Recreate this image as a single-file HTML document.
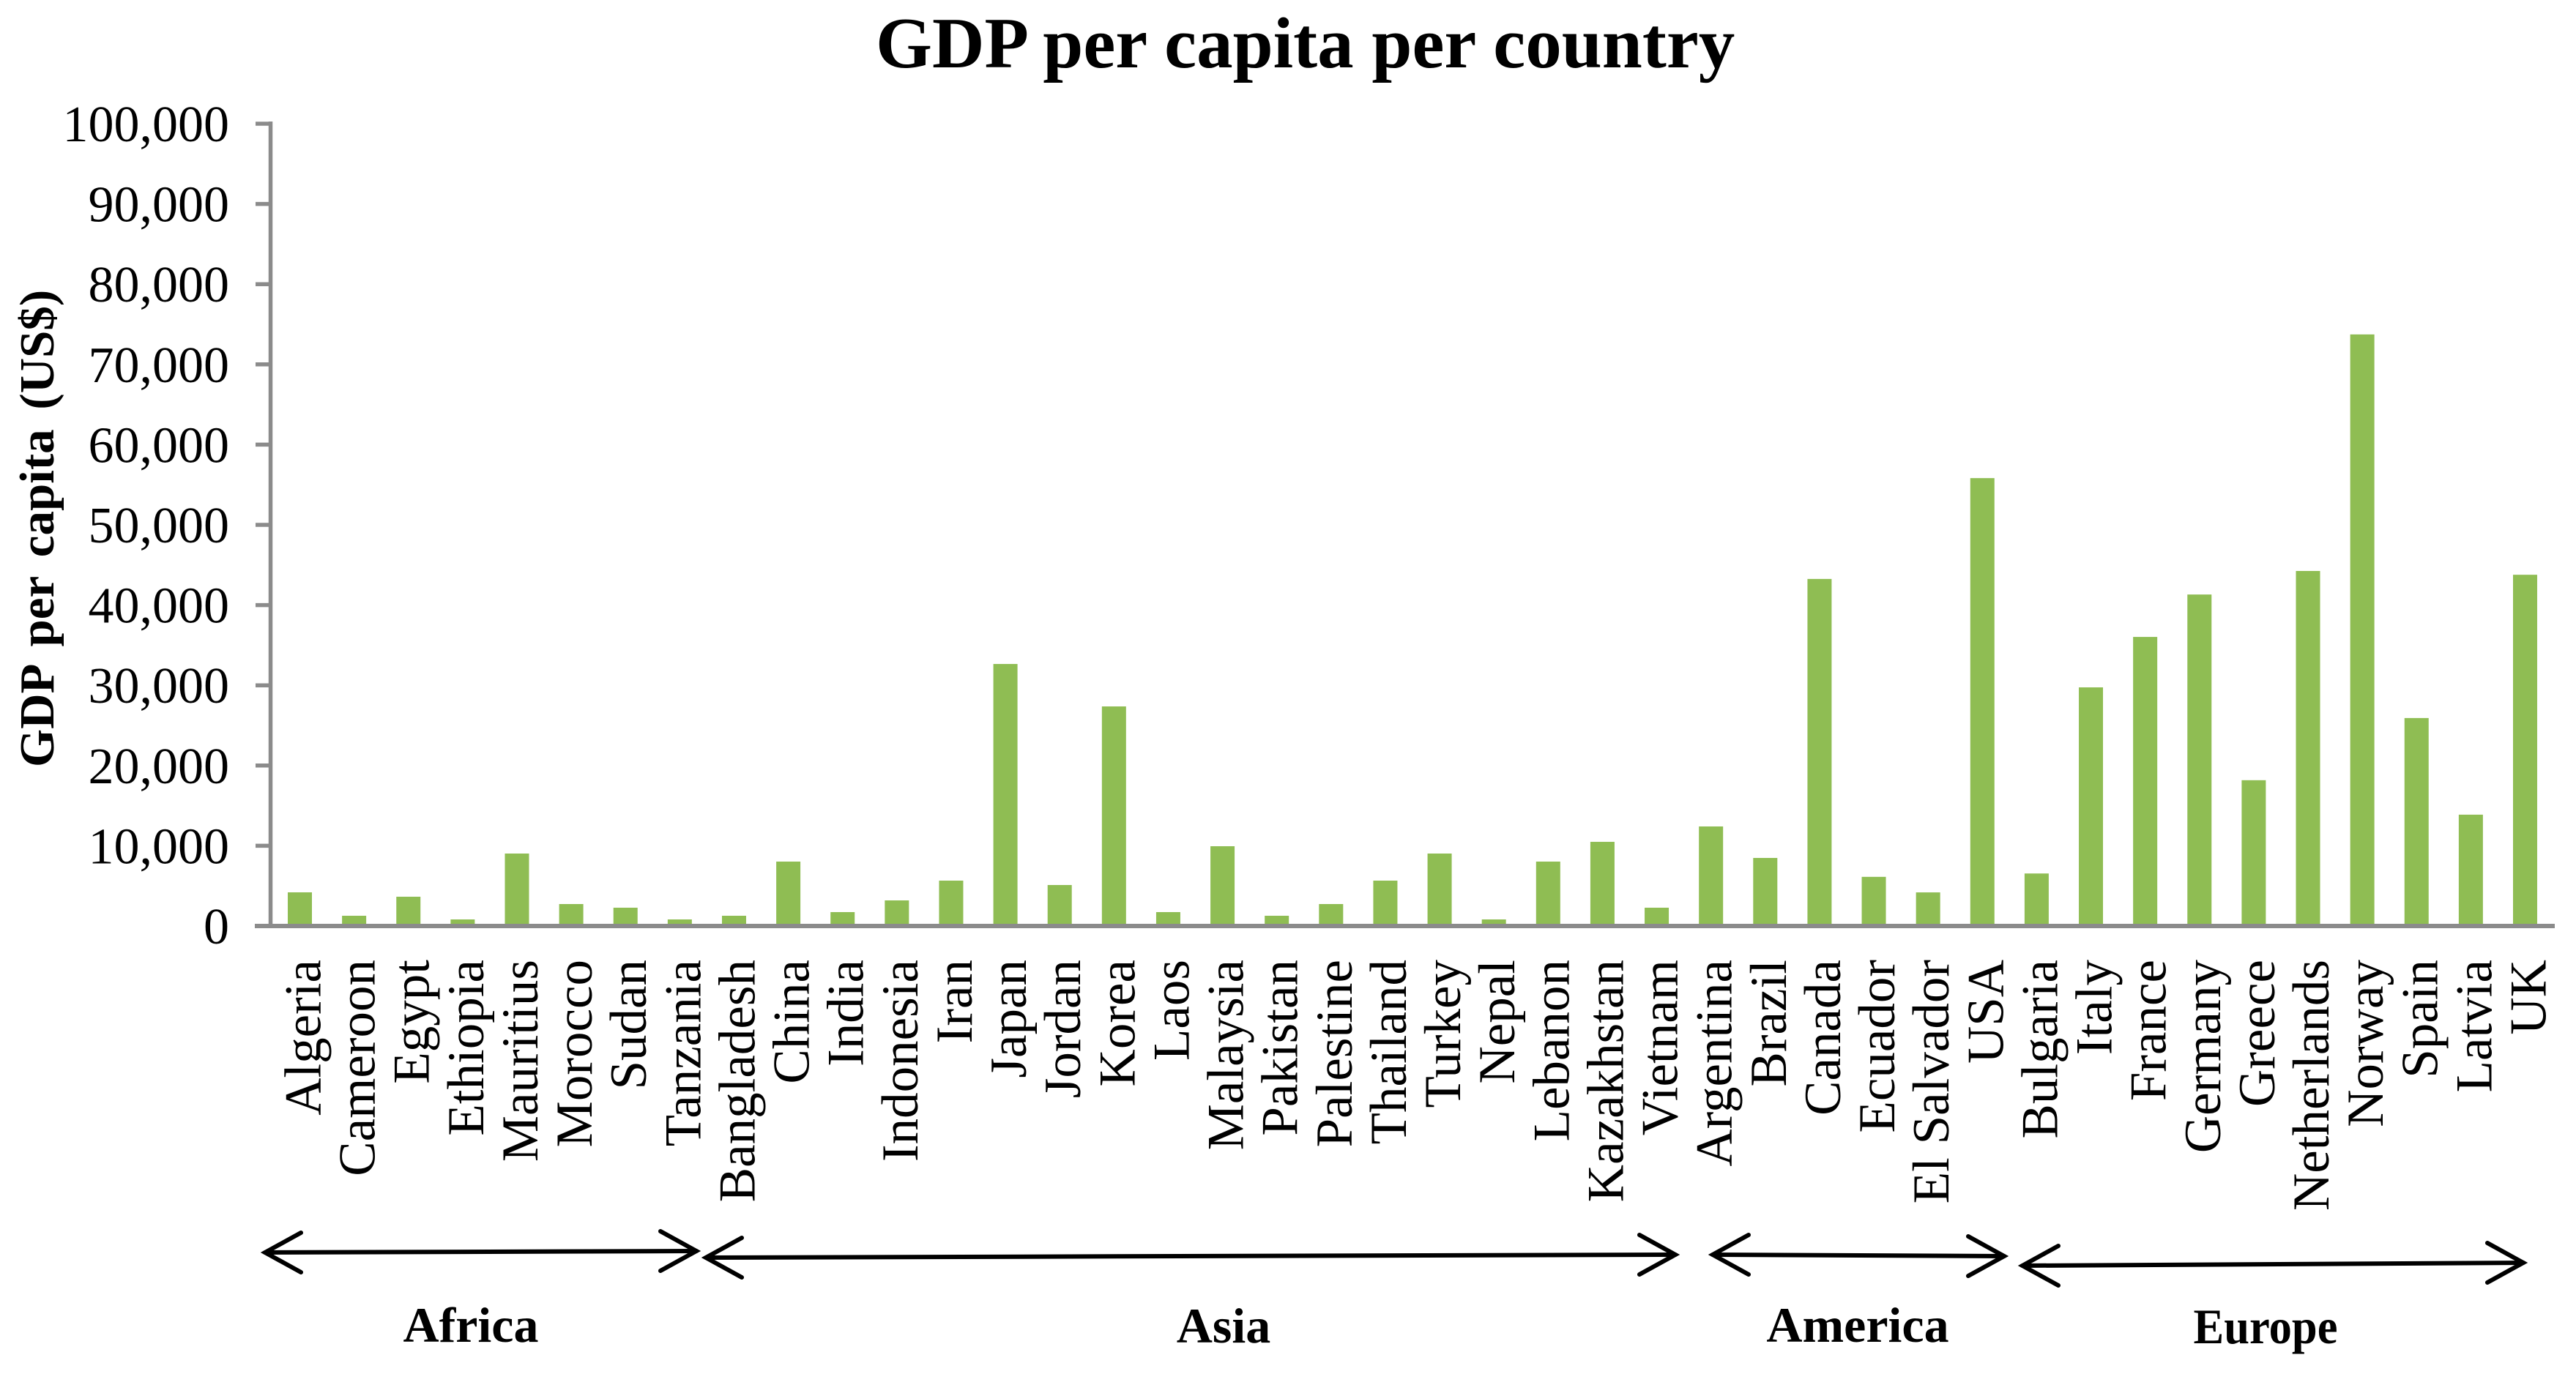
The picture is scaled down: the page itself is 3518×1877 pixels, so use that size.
<!DOCTYPE html>
<html lang="en">
<head>
<meta charset="utf-8">
<title>GDP per capita per country</title>
<style>
  html, body { margin: 0; padding: 0; background: #fff; }
  body { width: 3518px; height: 1877px; overflow: hidden; }
  svg { display: block; }
  text { font-family: "Liberation Serif", serif; fill: #000; }
</style>
</head>
<body>
<svg id="chart" xmlns="http://www.w3.org/2000/svg" width="3518" height="1877" viewBox="0 0 3518 1877">
  <rect x="0" y="0" width="3518" height="1877" fill="#fff"/>
  <text x="1196" y="92" font-size="99" font-weight="bold">GDP per capita per country</text>
  <text transform="translate(73,1048) rotate(-90)" font-size="67" font-weight="bold" word-spacing="10">GDP per capita (US$)</text>
  <g id="bars"></g>
  <g id="axes"></g>
  <g id="xlabels"></g>
  <g id="groups"></g>
</svg>
<script>
const categories = ["Algeria","Cameroon","Egypt","Ethiopia","Mauritius","Morocco","Sudan","Tanzania","Bangladesh","China","India","Indonesia","Iran","Japan","Jordan","Korea","Laos","Malaysia","Pakistan","Palestine","Thailand","Turkey","Nepal","Lebanon","Kazakhstan","Vietnam","Argentina","Brazil","Canada","Ecuador","El Salvador","USA","Bulgaria","Italy","France","Germany","Greece","Netherlands","Norway","Spain","Latvia","UK"];
const gdpValues = [4197,1277,3650,821,9033,2737,2281,821,1277,8029,1733,3193,5656,32660,5109,27370,1733,9944,1277,2737,5656,9033,821,8029,10491,2281,12410,8484,43258,6127,4190,55826,6546,29746,36031,41320,18172,44253,73737,25923,13878,43781];
const tickValues = [0,10000,20000,30000,40000,50000,60000,70000,80000,90000,100000];
const tickLabels = ["0","10,000","20,000","30,000","40,000","50,000","60,000","70,000","80,000","90,000","100,000"];
const regionNames = ["Africa","Asia","America","Europe"];

const NS = "http://www.w3.org/2000/svg";
const Y0 = 1265, Y_TOP = 169, Y_MAX = 100000;
const X_FIRST = 409.5, X_LAST = 3448.5;
const BAR_W = 33;
function yScale(v) { return Y0 - (v / Y_MAX) * (Y0 - Y_TOP); }
function xScale(i) { return X_FIRST + i * (X_LAST - X_FIRST) / (categories.length - 1); }
function make(tag, attrs, parent) {
  const el = document.createElementNS(NS, tag);
  for (const k in attrs) el.setAttribute(k, attrs[k]);
  parent.appendChild(el);
  return el;
}

const barsG = document.getElementById("bars");
const axesG = document.getElementById("axes");
const labelsG = document.getElementById("xlabels");
const groupsG = document.getElementById("groups");

categories.forEach(function (name, i) {
  const top = yScale(gdpValues[i]);
  const bar = make("rect", { x: xScale(i) - BAR_W / 2, y: top, width: BAR_W, height: Y0 - top, fill: "#8fbd53" }, barsG);
  
  

  const label = make("text", { transform: "translate(" + (xScale(i) + 28) + ",1311) rotate(-90)", "font-size": 71, "text-anchor": "end" }, labelsG);
  label.textContent = name;
  
  
});

const yAxisLine = make("line", { x1: 369.5, x2: 369.5, y1: Y_TOP - 3, y2: Y0 + 3, stroke: "#8b8b8b", "stroke-width": 5.5 }, axesG);



const xAxisLine = make("line", { x1: 348, x2: 3489, y1: Y0, y2: Y0, stroke: "#8b8b8b", "stroke-width": 6 }, axesG);



tickValues.forEach(function (v, i) {
  const y = yScale(v);
  const tick = make("line", { x1: 349, x2: 369, y1: y, y2: y, stroke: "#8b8b8b", "stroke-width": 5.5 }, axesG);
  
  
  const t = make("text", { x: 313, y: y + 24, "font-size": 70, "text-anchor": "end" }, axesG);
  t.textContent = tickLabels[i];
  
  
});

function drawArrow(name, xa, ya, xb, yb) {
  const g = make("g", { fill: "none", stroke: "#000", "stroke-width": 6, "stroke-linecap": "round", "stroke-linejoin": "miter" }, groupsG);
  
  
  make("line", { x1: xa, y1: ya, x2: xb, y2: yb }, g);
  make("polyline", { points: (xa + 49) + "," + (ya - 27) + " " + xa + "," + ya + " " + (xa + 49) + "," + (ya + 27) }, g);
  make("polyline", { points: (xb - 49) + "," + (yb - 27) + " " + xb + "," + yb + " " + (xb - 49) + "," + (yb + 27) }, g);
}
function drawRegion(name, cx, baseline, fitWidth) {
  const t = make("text", { x: cx, y: baseline, "font-size": 68, "font-weight": "bold", "text-anchor": "middle" }, groupsG);
  if (fitWidth) {
    t.setAttribute("textLength", fitWidth);
    t.setAttribute("lengthAdjust", "spacingAndGlyphs");
  }
  t.textContent = name;
  
  
}
drawArrow("africa", 362, 1711, 951, 1709);
drawArrow("asia", 964, 1718, 2288, 1714);
drawArrow("america", 2339, 1714, 2737, 1716);
drawArrow("europe", 2762, 1729, 3446, 1725);
drawRegion(regionNames[0], 643, 1833);
drawRegion(regionNames[1], 1671, 1834);
drawRegion(regionNames[2], 2537, 1833);
drawRegion(regionNames[3], 3094, 1835, 197);
</script>
</body>
</html>
